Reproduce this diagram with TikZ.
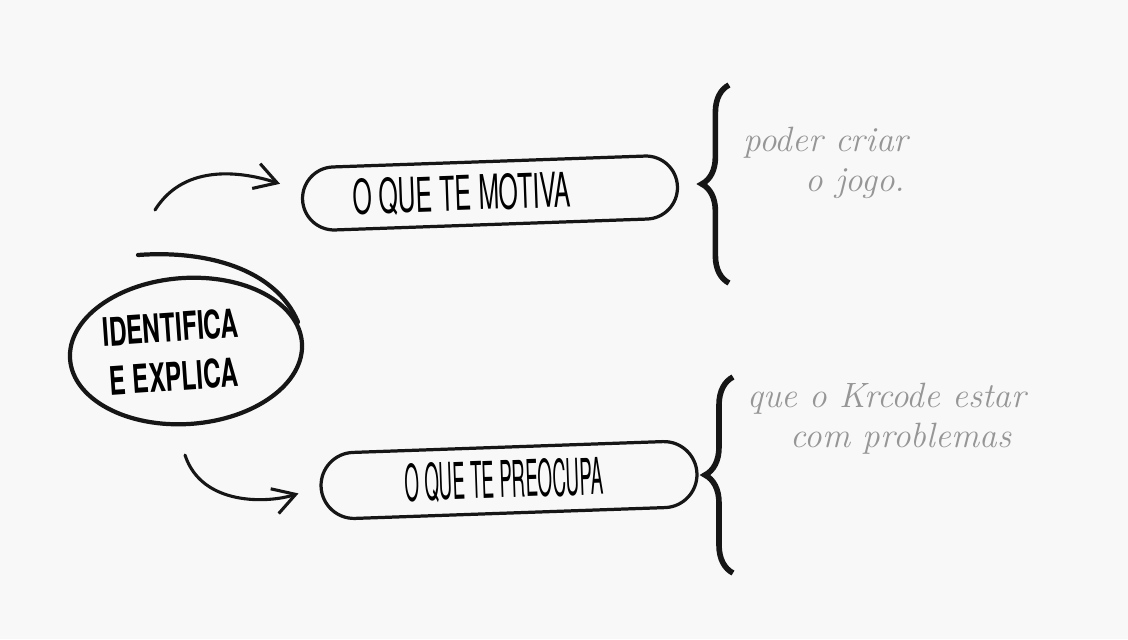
\documentclass[tikz,border=0pt]{standalone}
\usepackage{xcolor}
\usepackage{fontspec}
\usetikzlibrary{arrows.meta,positioning,calc,decorations.pathreplacing,shapes.geometric,shapes.misc}
\newfontfamily\markerfont[FakeStretch=0.62]{TeX Gyre Heros}
\newfontfamily\penfont[FakeStretch=0.52]{TeX Gyre Heros}
\newfontfamily\pennarrowfont[FakeStretch=0.37]{TeX Gyre Heros}
\definecolor{paper}{RGB}{248,248,248}
\definecolor{ink}{RGB}{22,22,22}
\definecolor{pencil}{RGB}{150,150,150}

\begin{document}
\begin{tikzpicture}[x=0.025cm,y=0.025cm,>={Straight Barb[length=0.55cm,width=0.65cm]},
  pill/.style={draw=ink,line width=2.3pt,rounded rectangle,rotate=2,inner sep=0pt},
  arr/.style={->,ink,line width=2.2pt,line cap=round,shorten >=0.55cm},
  bracket/.style={ink,line width=4pt,decorate},
  note/.style={pencil,anchor=north west,align=left,inner sep=0pt,font=\itshape\fontsize{25}{28}\selectfont}]
\fill[paper] (0,0) rectangle (1128,-639);
\useasboundingbox (0,0) rectangle (1128,-639);
\node[draw=ink,line width=3pt,ellipse,rotate=4,minimum width=5.8cm,minimum height=3.65cm,inner sep=0pt,align=center,font=\markerfont\bfseries\fontsize{28}{35}\selectfont] (idea) at (186,-351) {IDENTIFICA\hspace*{20pt}\\E EXPLICA\hspace*{20pt}};
\draw[ink,line width=3pt,line cap=round] (138,-255) .. controls (205,-250) and (275,-268) .. (298,-322);
\node[pill,minimum width=9.375cm,minimum height=1.575cm,font=\penfont\fontsize{34}{34}\selectfont] (motiva) at (490,-193) {O QUE TE MOTIVA\hspace*{40pt}};
\node[pill,minimum width=9.4cm,minimum height=1.65cm,font=\pennarrowfont\fontsize{36}{36}\selectfont] (preocupa) at (509,-480) {O QUE TE PREOCUPA\hspace*{7pt}};
\coordinate (m1) at (155,-210);
\coordinate (m2) at (185,-455);
\draw[arr] (m1) to[out=58,in=162] ($(motiva.west)+(0,9)$);
\draw[arr] (m2) to[out=-72,in=198] (preocupa.west);
\coordinate (b1s) at (729,-283);
\coordinate (b1e) at (729,-85);
\coordinate (b2s) at (733,-573);
\coordinate (b2e) at (733,-377);
\draw[bracket,decoration={brace,amplitude=0.68cm}] (b1s) -- (b1e);
\draw[bracket,decoration={brace,amplitude=0.7cm}] (b2s) -- (b2e);
\node[note] (gosto) at (743,-127) {poder criar\\\hspace*{44pt}o jogo.};
\node[note] (medo) at (747,-383) {que o Krcode estar\\\hspace*{31pt}com problemas};
\end{tikzpicture}
\end{document}
